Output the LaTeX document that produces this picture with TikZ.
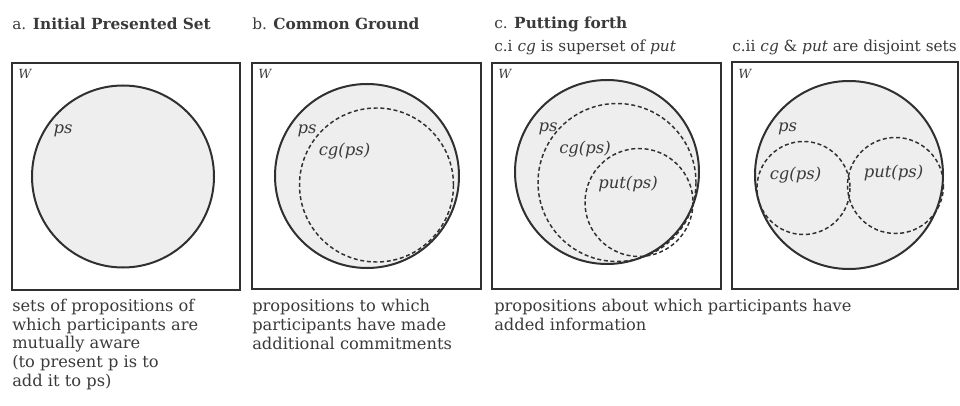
\documentclass[tikz,border=0pt]{standalone}
\usepackage{fontspec}
\setmainfont{DejaVu Serif}
\usetikzlibrary{positioning}
\definecolor{inkgray}{RGB}{48,48,48}
\definecolor{textgray}{RGB}{58,58,58}
\definecolor{setfill}{RGB}{238,238,238}

\begin{document}
\begin{tikzpicture}[x=0.75pt,y=-0.75pt,
  every node/.style={font=\fontsize{12.2}{13.9}\selectfont,text=textgray,inner sep=0pt},
  frame/.style={draw=inkgray,line width=1.5pt},
  psset/.style={draw=inkgray,line width=1.5pt,fill=setfill},
  subset/.style={draw=inkgray,line width=1.1pt,dash pattern=on 3pt off 2pt},
  lab/.style={font=\itshape\fontsize{12.3}{13.9}\selectfont},
  wlab/.style={font=\itshape\fontsize{9.5}{10}\selectfont,anchor=north west},
  head/.style={anchor=base west,font=\fontsize{11.5}{13.9}\selectfont},
  note/.style={anchor=base west,align=left}]
  \useasboundingbox (0,0) rectangle (960,406);

  % headings
  \node[head] (ha) at (12,30) {a.\hspace{5pt}\textbf{Initial Presented Set}};
  \node[head] (hb) at (252,30) {b. \textbf{Common Ground}};
  \node[head] (hc) at (494,29) {c. \textbf{Putting forth}};
  \node[head] (hci) at (494,52) {c.i \textit{cg} is superset of \textit{put}};
  \node[head] (hcii) at (732,52) {c.ii \textit{cg} \& \textit{put} are disjoint sets};

  % a. initial presented set
  \draw[frame] (12,63) rectangle (240,290);
  \draw[psset] (123,176.5) circle (91);
  \node[wlab] (wa) at (18,69) {W};
  \node[lab] (psa) at (63,131) {ps};

  % b. common ground
  \draw[frame] (252,63) rectangle (481,289);
  \draw[psset] (367,176) circle (92);
  \draw[subset] (376.5,185) circle (77);
  \node[wlab] (wb) at (258,69) {W};
  \node[lab] (psb) at (307,131) {ps};
  \node[lab] (cgb) at (344.5,151) {cg(ps)};

  % c.i cg superset of put
  \draw[frame] (492,63) rectangle (721,289);
  \draw[psset] (607,172) circle (92);
  \draw[subset] (617,182.5) circle (79);
  \draw[subset] (639,202.5) circle (54);
  \node[wlab] (wci) at (498,69) {W};
  \node[lab] (psci) at (548,129) {ps};
  \node[lab] (cgci) at (585,149) {cg(ps)};
  \node[lab] (putci) at (628,183.5) {put(ps)};

  % c.ii disjoint sets
  \draw[frame] (732,62) rectangle (958,289);
  \draw[psset] (849,175) circle (94);
  \draw[subset] (803.5,188) circle (46.5);
  \draw[subset] (895.5,185.5) circle (48);
  \node[wlab] (wcii) at (738,69) {W};
  \node[lab] (pscii) at (787.5,129) {ps};
  \node[lab] (cgcii) at (795.5,175.5) {cg(ps)};
  \node[lab] (putcii) at (893.5,172.5) {put(ps)};

  % captions (base = last line)
  \node[note] (na) at (12,386) {sets of propositions of\\which participants are\\mutually aware\\(to present p is to\\add it to ps)};
  \node[note] (nb) at (252,349) {propositions to which\\participants have made\\additional commitments};
  \node[note] (nc) at (494,330.5) {propositions about which participants have\\added information};
\end{tikzpicture}
\end{document}
